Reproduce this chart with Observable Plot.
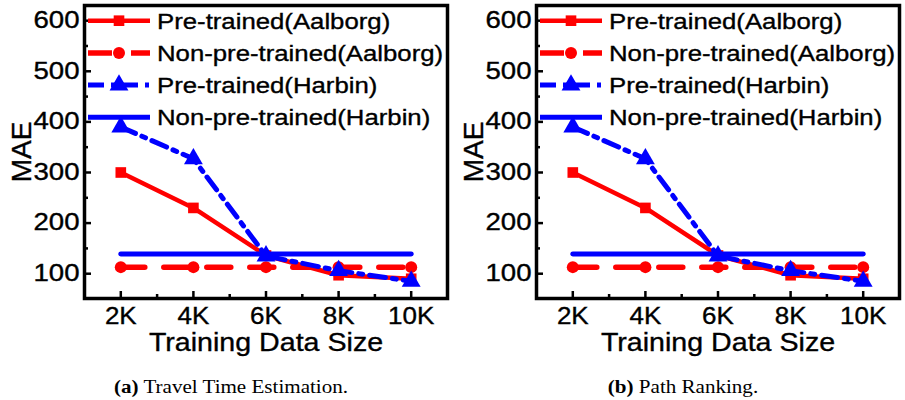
<!DOCTYPE html>
<html>
<head>
<meta charset="utf-8">
<script src="https://cdn.jsdelivr.net/npm/d3@7"></script>
<script src="https://cdn.jsdelivr.net/npm/@observablehq/plot@0.6"></script>
<style>
  body { margin: 0; background: #fff; }
  #wrap { position: relative; width: 905px; height: 400px; overflow: hidden; background: #fff; }
  .panel { position: absolute; top: 0; width: 452px; height: 400px; }
  .panel svg.legend { position: absolute; left: 0; top: 0; pointer-events: none; }
  .panel svg text { stroke: #000; stroke-width: 0.35px; }
  .caption { position: absolute; top: 377px; width: 300px; text-align: center; font-family: "Liberation Serif", serif; font-size: 18px; line-height: 20px; color: #000; white-space: nowrap; transform: scaleX(1.17); }
  .caption b { font-weight: bold; }
</style>
</head>
<body>
<div id="wrap"></div>
<script>
// ---------- data ----------
const sizes = [2, 4, 6, 8, 10];
const sizeLabels = ["2K", "4K", "6K", "8K", "10K"];
const sizeMinorTicks = [3, 5, 7, 9];
const maeTicks = [100, 200, 300, 400, 500, 600];
const maeMinorTicks = [150, 250, 350, 450, 550];
const seriesNames = ["Pre-trained(Aalborg)", "Non-pre-trained(Aalborg)", "Pre-trained(Harbin)", "Non-pre-trained(Harbin)"];
const xLabel = "Training Data Size";
const yLabel = "MAE";

// (a) Travel Time Estimation
const ttePreAalborg    = [300, 230, 136, 97, 90];
const tteNonPreAalborg = [113, 113, 113, 113, 113];
const ttePreHarbin     = [390, 327, 135, 106, 85];
const tteNonPreHarbin  = [139, 139, 139, 139, 139];

// (b) Path Ranking
const prPreAalborg    = [300, 230, 136, 97, 90];
const prNonPreAalborg = [113, 113, 113, 113, 113];
const prPreHarbin     = [390, 327, 135, 106, 85];
const prNonPreHarbin  = [139, 139, 139, 139, 139];

const captionTags = ["(a)", "(b)"];
const captionTexts = ["Travel Time Estimation.", "Path Ranking."];

// ---------- styles ----------
const seriesStyles = [
  {stroke: "#ff0000", strokeWidth: 4.5, dash: null,        symbol: "square",   r: 6},
  {stroke: "#ff0000", strokeWidth: 5.5, dash: "24,19",     symbol: "circle",   r: 6},
  {stroke: "#0000ff", strokeWidth: 5,   dash: "16,7,4,7",  symbol: "triangle", r: 7},
  {stroke: "#0000ff", strokeWidth: 5,   dash: null,        symbol: null,       r: 0}
];
const drawOrder = [0, 1, 3, 2];

function buildRows(seriesArrays) {
  return seriesArrays.map((vals, s) => sizes.map((x, i) => ({series: seriesNames[s], x, y: vals[i]})));
}

function stretch(root, selector, f) {
  root.querySelectorAll(selector).forEach(t => {
    const L = t.getComputedTextLength();
    if (L > 0) {
      t.setAttribute("textLength", (L * f).toFixed(2));
      t.setAttribute("lengthAdjust", "spacingAndGlyphs");
    }
  });
}

function makePanel(seriesArrays, idx, left) {
  const rows = buildRows(seriesArrays);
  const marks = [];
  // ticks (inside) and labels
  marks.push(Plot.axisY(maeTicks, {anchor: "left", tickSize: -7, strokeWidth: 2.5, fill: "none", label: null}));
  marks.push(Plot.axisY(maeMinorTicks, {anchor: "left", tickSize: -4, strokeWidth: 2.5, fill: "none", label: null}));
  marks.push(Plot.axisY(maeTicks, {anchor: "left", tickSize: 0, tickPadding: 5, fontSize: 23, fill: "black", label: null}));
  marks.push(Plot.axisX(sizes, {anchor: "bottom", tickSize: -7, strokeWidth: 2.5, fill: "none", label: null}));
  marks.push(Plot.axisX(sizeMinorTicks, {anchor: "bottom", tickSize: -4, strokeWidth: 2.5, fill: "none", label: null}));
  marks.push(Plot.axisX(sizes, {anchor: "bottom", tickSize: 0, tickPadding: 9, fontSize: 23, fill: "black", label: null,
    tickFormat: d => sizeLabels[sizes.indexOf(d)]}));
  marks.push(Plot.text([yLabel], {frameAnchor: "left", textAnchor: "middle", lineAnchor: "middle", dx: -62, rotate: -90, fontSize: 28, fill: "black"}));
  marks.push(Plot.text([xLabel], {frameAnchor: "bottom", textAnchor: "middle", lineAnchor: "middle", dy: 44, fontSize: 26, fill: "black"}));
  // series
  for (const s of drawOrder) {
    const st = seriesStyles[s];
    marks.push(Plot.line(rows[s], {x: "x", y: "y", stroke: st.stroke, strokeWidth: st.strokeWidth,
      strokeDasharray: st.dash || undefined, strokeLinejoin: "round"}));
    if (st.symbol) {
      marks.push(Plot.dot(rows[s], {x: "x", y: "y", symbol: st.symbol, r: st.r, fill: st.stroke, stroke: "none"}));
    }
  }
  marks.push(Plot.frame({stroke: "black", strokeWidth: 3.5}));

  const chart = Plot.plot({
    width: 452,
    height: 360,
    marginLeft: 84,
    marginRight: 5,
    marginTop: 5,
    marginBottom: 62,
    x: {type: "linear", domain: [1, 11]},
    y: {type: "linear", domain: [51, 630]},
    style: {fontFamily: "'Liberation Sans', Arial, sans-serif", color: "black", background: "white", overflow: "visible"},
    marks
  });

  const div = document.createElement("div");
  div.className = "panel";
  div.style.left = left + "px";
  div.appendChild(chart);
  document.getElementById("wrap").appendChild(div);

  stretch(chart, 'g[aria-label="y-axis tick label"] text', 1.2);
  stretch(chart, 'g[aria-label="x-axis tick label"] text', 1.13);
  chart.querySelectorAll('g[aria-label="text"] text').forEach(t => {
    if (t.textContent === xLabel) stretch(t.parentNode, "text", 1.1);
  });

  // legend overlay
  const lg = d3.select(div).append("svg").attr("class", "legend").attr("width", 452).attr("height", 300)
    .style("font-family", "'Liberation Sans', Arial, sans-serif");
  seriesNames.forEach((name, s) => {
    const st = seriesStyles[s];
    const cy = 20.7 + s * 32.2;
    lg.append("line").attr("x1", 88).attr("x2", 150).attr("y1", cy).attr("y2", cy)
      .attr("stroke", st.stroke).attr("stroke-width", st.strokeWidth)
      .attr("stroke-dasharray", st.dash);
    if (st.symbol) {
      const sym = {square: d3.symbolSquare, circle: d3.symbolCircle, triangle: d3.symbolTriangle}[st.symbol];
      lg.append("path").attr("transform", `translate(119,${cy})`)
        .attr("d", d3.symbol(sym, Math.PI * st.r * st.r)()).attr("fill", st.stroke);
    }
    lg.append("text").attr("x", 157).attr("y", cy).attr("dy", "0.36em")
      .attr("font-size", 22).attr("fill", "black").text(name);
  });
  stretch(lg.node(), "text", 1.17);

  const cap = document.createElement("div");
  cap.className = "caption";
  cap.style.left = (231 - 150) + "px";
  cap.innerHTML = `<b>${captionTags[idx]}</b> ${captionTexts[idx]}`;
  div.appendChild(cap);
}

makePanel([ttePreAalborg, tteNonPreAalborg, ttePreHarbin, tteNonPreHarbin], 0, 0);
makePanel([prPreAalborg, prNonPreAalborg, prPreHarbin, prNonPreHarbin], 1, 452);
</script>
</body>
</html>
